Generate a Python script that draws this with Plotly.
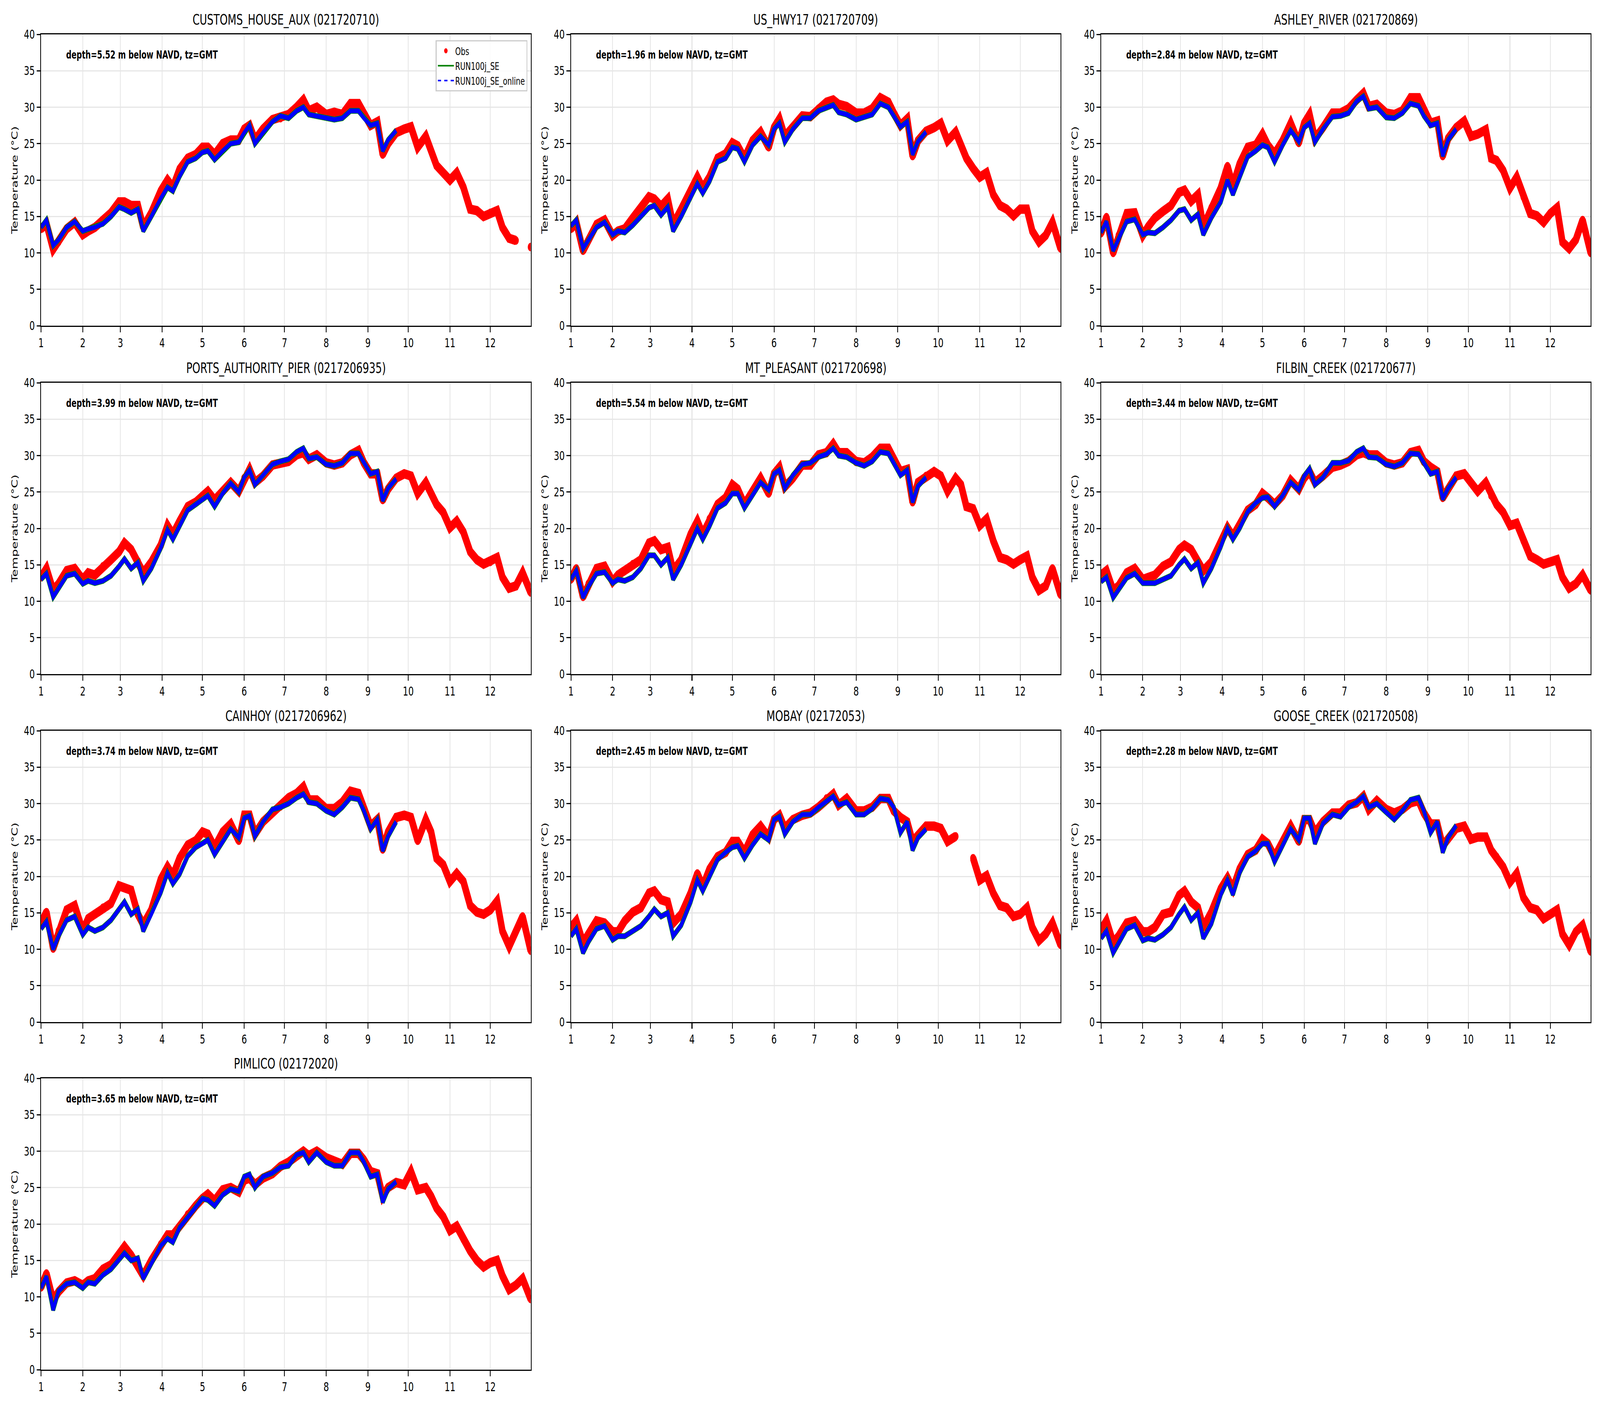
import plotly.graph_objects as go

# ---------------- data ----------------
OBS_DATES = [
    "2021-01-01", "2021-01-05", "2021-01-10", "2021-01-14", "2021-01-20", "2021-01-26",
    "2021-02-01", "2021-02-05", "2021-02-10", "2021-02-16", "2021-02-22", "2021-02-28",
    "2021-03-04", "2021-03-09", "2021-03-14", "2021-03-18", "2021-03-24", "2021-03-31",
    "2021-04-05", "2021-04-09", "2021-04-14", "2021-04-20", "2021-04-26",
    "2021-05-01", "2021-05-05", "2021-05-10", "2021-05-16", "2021-05-22", "2021-05-28",
    "2021-06-01", "2021-06-05", "2021-06-09", "2021-06-15", "2021-06-22", "2021-06-28",
    "2021-07-04", "2021-07-10", "2021-07-15", "2021-07-19", "2021-07-25",
    "2021-08-01", "2021-08-07", "2021-08-13", "2021-08-19", "2021-08-25", "2021-08-29",
    "2021-09-03", "2021-09-08", "2021-09-12", "2021-09-16", "2021-09-22", "2021-09-28",
    "2021-10-03", "2021-10-08", "2021-10-14", "2021-10-18", "2021-10-22", "2021-10-27",
    "2021-11-01", "2021-11-06", "2021-11-11", "2021-11-16", "2021-11-21", "2021-11-26",
    "2021-12-01", "2021-12-06", "2021-12-10", "2021-12-15", "2021-12-20", "2021-12-25", "2021-12-31",
]
MODEL_DATES = OBS_DATES[:51]

MONTH_TICKS = ["2021-%02d-01" % m for m in range(1, 13)]
MONTH_LABELS = [str(m) for m in range(1, 13)]
X_RANGE = ["2021-01-01", "2021-12-31"]
Y_TICKS = [0, 5, 10, 15, 20, 25, 30, 35, 40]

STATIONS = ["CUSTOMS_HOUSE_AUX", "US_HWY17", "ASHLEY_RIVER", "PORTS_AUTHORITY_PIER",
            "MT_PLEASANT", "FILBIN_CREEK", "CAINHOY", "MOBAY", "GOOSE_CREEK", "PIMLICO"]
STATION_IDS = ["021720710", "021720709", "021720869", "0217206935", "021720698",
               "021720677", "0217206962", "02172053", "021720508", "02172020"]
DEPTHS = [5.52, 1.96, 2.84, 3.99, 5.54, 3.44, 3.74, 2.45, 2.28, 3.65]

OBS_CUSTOMS = [
    13.3, 14.0, 10.5, 11.5, 13.3, 14.2,
    12.5, 13.0, 13.5, 14.5, 15.5, 17.0,
    17.0, 16.5, 16.5, 13.5, 15.5, 18.5,
    20.0, 19.0, 21.5, 23.0, 23.5,
    24.5, 24.5, 23.5, 25.0, 25.5, 25.5,
    27.0, 27.5, 25.5, 27.0, 28.3, 28.5,
    29.0, 30.0, 31.0, 29.5, 30.0,
    29.0, 29.3, 29.0, 30.5, 30.5, 29.0,
    27.5, 28.0, 23.5, 25.0, 26.5, 27.0,
    27.3, 24.5, 26.0, 24.0, 22.0, 21.0,
    20.0, 21.0, 19.0, 16.0, 15.8, 15.0,
    15.5, 15.8, 13.5, 12.0, 11.7, None, 10.8,
]
MOD_CUSTOMS = [
    13.5, 14.5, 11.0, 11.8, 13.5, 14.3,
    13.0, 13.3, 13.5, 14.0, 15.0, 16.3,
    16.0, 15.5, 16.0, 13.0, 15.0, 17.5,
    19.0, 18.5, 20.5, 22.5, 23.0,
    23.8, 24.0, 22.8, 24.0, 25.0, 25.2,
    26.5, 27.5, 25.0, 26.5, 28.0, 28.8,
    28.5, 29.5, 30.0, 29.0, 28.8,
    28.5, 28.3, 28.5, 29.5, 29.5, 28.5,
    27.5, 27.8, 24.0, 25.5, 26.8,
]

OBS_HWY17 = [
    13.3, 14.2, 10.3, 11.8, 13.9, 14.5,
    12.4, 13.0, 13.3, 14.8, 16.2, 17.7,
    17.4, 16.4, 17.4, 13.9, 16.0, 18.6,
    20.4, 18.9, 20.4, 23.0, 23.6,
    25.1, 24.7, 23.0, 25.4, 26.6, 24.5,
    27.2, 28.4, 26.0, 27.2, 28.8, 28.7,
    29.8, 30.7, 31.0, 30.4, 30.1,
    29.2, 29.2, 29.8, 31.3, 30.7, 29.2,
    27.5, 28.4, 23.3, 25.4, 26.7, 27.2,
    27.8, 25.4, 26.6, 24.8, 23.0, 21.6,
    20.4, 21.0, 18.0, 16.5, 16.0, 15.1,
    16.0, 16.0, 13.0, 11.5, 12.4, 14.2, 10.6,
]
MOD_HWY17 = [
    13.7, 14.5, 10.6, 11.8, 13.5, 14.2,
    12.5, 13.0, 12.8, 13.8, 15.0, 16.2,
    16.5, 15.2, 16.3, 13.0, 15.0, 17.5,
    19.5, 18.2, 19.8, 22.5, 23.0,
    24.5, 24.3, 22.5, 24.8, 26.0, 24.8,
    27.0, 27.8, 25.2, 27.0, 28.5, 28.5,
    29.5, 30.0, 30.3, 29.3, 29.0,
    28.3, 28.7, 29.0, 30.5, 30.0, 28.8,
    27.3, 28.0, 23.5, 25.3, 26.6,
]

OBS_ASHLEY = [
    12.7, 14.9, 10.0, 12.4, 15.4, 15.5,
    12.4, 13.6, 14.8, 15.7, 16.5, 18.3,
    18.6, 17.1, 18.0, 13.6, 16.2, 18.9,
    21.9, 19.2, 22.2, 24.5, 24.8,
    26.3, 24.8, 23.6, 25.4, 27.8, 25.1,
    27.8, 29.0, 25.7, 27.2, 29.2, 29.2,
    29.8, 31.0, 31.9, 30.1, 30.4,
    29.2, 29.0, 29.5, 31.3, 31.3, 29.5,
    27.8, 28.1, 23.3, 25.7, 27.2, 28.1,
    26.0, 26.3, 26.9, 23.0, 22.7, 21.3,
    18.9, 20.4, 17.7, 15.4, 15.1, 14.2,
    15.4, 16.2, 11.5, 10.6, 11.8, 14.5, 10.0,
]
MOD_ASHLEY = [
    12.8, 14.3, 10.3, 12.0, 14.3, 14.6,
    12.5, 12.8, 12.7, 13.5, 14.5, 15.8,
    16.0, 14.5, 15.3, 12.5, 14.8, 17.0,
    20.0, 18.0, 20.5, 23.2, 24.0,
    24.8, 24.5, 22.5, 24.8, 26.8, 25.3,
    27.2, 27.8, 25.2, 27.0, 28.7, 28.8,
    29.2, 30.8, 31.5, 29.8, 30.0,
    28.6, 28.5, 29.2, 30.5, 30.2, 28.8,
    27.5, 27.8, 23.3, 25.5, 27.0,
]

OBS_PORTS = [
    13.3, 14.5, 11.5, 12.4, 14.2, 14.5,
    13.0, 13.9, 13.6, 14.8, 15.7, 16.8,
    18.0, 17.1, 15.5, 13.9, 15.4, 17.7,
    20.4, 19.2, 21.0, 23.0, 23.6,
    24.5, 25.1, 23.9, 25.1, 26.3, 25.1,
    26.9, 28.1, 26.3, 27.2, 28.7, 29.0,
    29.2, 30.1, 30.4, 29.5, 30.1,
    29.0, 28.7, 29.0, 30.1, 30.7, 29.0,
    27.5, 27.5, 23.9, 25.4, 26.9, 27.5,
    27.2, 24.8, 26.3, 24.8, 23.3, 22.2,
    20.1, 21.0, 19.5, 16.8, 15.7, 15.1,
    15.4, 16.0, 13.3, 11.8, 12.1, 13.9, 11.2,
]
MOD_PORTS = [
    13.0, 13.8, 10.6, 11.8, 13.5, 13.8,
    12.4, 12.8, 12.5, 12.8, 13.5, 14.8,
    15.8, 14.5, 15.3, 12.8, 14.5, 17.3,
    19.8, 18.5, 20.3, 22.5, 23.3,
    24.0, 24.5, 23.0, 24.8, 26.2, 25.0,
    27.0, 28.0, 26.0, 27.2, 28.8, 29.2,
    29.5, 30.5, 31.0, 29.6, 29.8,
    28.8, 28.6, 29.0, 30.3, 30.3, 29.0,
    27.5, 27.8, 23.8, 25.5, 26.8,
]

OBS_MTP = [
    13.0, 14.5, 10.6, 12.4, 14.5, 14.8,
    12.7, 13.6, 14.2, 15.1, 15.7, 18.0,
    18.3, 17.1, 17.4, 14.2, 15.7, 19.2,
    21.0, 19.2, 21.3, 23.3, 24.2,
    26.0, 25.4, 23.3, 25.1, 26.9, 24.8,
    27.5, 28.4, 25.7, 26.9, 28.7, 28.7,
    30.1, 30.4, 31.6, 30.4, 30.4,
    29.2, 29.0, 29.8, 31.0, 31.0, 29.5,
    27.8, 28.1, 23.6, 26.3, 27.2, 27.8,
    27.2, 25.1, 26.9, 26.0, 23.0, 22.7,
    20.4, 21.3, 18.3, 16.0, 15.7, 15.1,
    15.7, 16.2, 13.3, 11.5, 12.1, 14.5, 10.9,
]
MOD_MTP = [
    13.0, 14.2, 10.5, 12.0, 13.8, 14.0,
    12.5, 13.0, 12.8, 13.3, 14.5, 16.3,
    16.3, 15.0, 16.0, 13.0, 15.0, 18.0,
    20.0, 18.5, 20.3, 22.8, 23.5,
    24.8, 24.8, 22.8, 24.5, 26.3, 25.3,
    27.5, 28.0, 25.5, 27.3, 28.8, 29.0,
    29.8, 30.2, 31.0, 30.0, 29.8,
    29.0, 28.6, 29.2, 30.5, 30.3, 29.0,
    27.3, 28.0, 23.6, 25.8, 27.0,
]

OBS_FILBIN = [
    13.6, 14.2, 11.5, 12.1, 13.9, 14.5,
    13.0, 13.3, 13.6, 14.8, 15.4, 17.1,
    17.7, 17.1, 15.4, 14.2, 15.4, 18.0,
    20.1, 18.9, 20.4, 22.5, 23.3,
    24.8, 24.2, 23.3, 24.5, 26.6, 25.4,
    26.9, 27.8, 26.3, 27.2, 28.4, 28.7,
    29.2, 30.1, 30.4, 30.1, 30.1,
    29.0, 28.7, 29.0, 30.4, 30.7, 29.2,
    28.4, 27.8, 24.2, 25.4, 27.2, 27.5,
    26.3, 25.1, 26.3, 24.5, 23.3, 22.2,
    20.4, 20.7, 18.3, 16.2, 15.7, 15.1,
    15.4, 15.7, 13.3, 11.8, 12.4, 13.6, 11.5,
]
MOD_FILBIN = [
    12.7, 13.3, 10.5, 11.5, 13.2, 13.8,
    12.5, 12.5, 12.5, 13.0, 13.5, 15.0,
    15.8, 14.5, 15.3, 12.5, 14.5, 17.5,
    20.0, 18.5, 20.0, 22.3, 23.5,
    24.2, 24.3, 23.0, 24.5, 26.3, 25.3,
    27.2, 28.2, 26.0, 27.0, 29.0, 29.0,
    29.3, 30.5, 31.0, 29.8, 29.7,
    28.8, 28.5, 29.0, 30.3, 30.2, 29.0,
    27.5, 27.8, 24.0, 25.5, 27.0,
]

OBS_CAINHOY = [
    13.6, 15.1, 10.1, 12.5, 15.4, 16.0,
    12.5, 14.2, 14.8, 15.7, 16.3, 18.7,
    18.4, 18.1, 14.8, 13.4, 15.4, 19.6,
    21.3, 20.1, 22.5, 24.3, 24.9,
    26.1, 25.8, 24.0, 26.1, 27.2, 24.9,
    28.4, 28.4, 25.8, 27.5, 28.7, 29.6,
    30.8, 31.4, 32.3, 30.5, 30.5,
    29.3, 29.3, 30.2, 31.7, 31.4, 29.3,
    26.9, 27.8, 23.7, 26.1, 28.1, 28.4,
    28.1, 24.9, 27.8, 26.1, 22.5, 21.6,
    19.3, 20.4, 19.3, 16.0, 15.1, 14.8,
    15.4, 16.6, 12.5, 10.4, 12.5, 14.5, 9.8,
]
MOD_CAINHOY = [
    12.8, 13.8, 10.0, 11.8, 14.0, 14.5,
    12.0, 13.0, 12.5, 13.0, 14.0, 15.5,
    16.5, 14.8, 15.5, 12.5, 14.8, 17.8,
    20.5, 19.0, 20.3, 22.8, 24.0,
    24.5, 25.0, 23.0, 24.8, 26.5, 25.3,
    28.0, 28.3, 25.5, 27.5, 29.2, 29.5,
    30.0, 30.8, 31.3, 30.2, 30.0,
    29.0, 28.5, 29.5, 30.8, 30.6, 29.0,
    26.5, 27.8, 23.5, 25.5, 27.5,
]

OBS_MOBAY = [
    13.0, 13.9, 10.9, 12.1, 13.9, 13.6,
    12.4, 12.4, 13.9, 15.1, 15.7, 17.7,
    18.0, 16.8, 16.5, 13.6, 14.8, 17.7,
    20.4, 18.6, 21.0, 22.7, 23.3,
    24.8, 24.8, 23.3, 25.7, 26.9, 25.4,
    27.8, 28.4, 26.6, 27.8, 28.4, 28.7,
    29.5, 30.7, 31.3, 29.8, 30.7,
    29.0, 29.0, 29.5, 30.7, 30.7, 29.0,
    28.1, 27.5, 24.8, 25.7, 26.9, 26.9,
    26.6, 24.8, 25.5, None, None, 22.5,
    19.5, 20.1, 17.7, 16.0, 15.7, 14.5,
    14.8, 15.7, 13.0, 11.2, 12.1, 13.6, 10.6,
]
MOD_MOBAY = [
    11.8, 12.8, 9.5, 11.0, 12.8, 13.2,
    11.3, 11.8, 11.8, 12.5, 13.2, 14.5,
    15.5, 14.5, 15.0, 11.8, 13.3, 16.5,
    19.5, 18.0, 20.0, 22.3, 23.3,
    24.0, 24.2, 22.5, 24.3, 25.8, 25.0,
    27.8, 28.2, 25.8, 27.5, 28.5, 28.5,
    29.5, 30.3, 31.0, 29.8, 30.2,
    28.5, 28.5, 29.3, 30.7, 30.5, 29.5,
    26.0, 27.5, 23.6, 25.3, 26.5,
]

OBS_GOOSE = [
    12.7, 13.9, 10.9, 11.8, 13.6, 13.9,
    12.4, 12.4, 13.0, 14.8, 15.1, 17.4,
    18.0, 16.5, 15.7, 13.0, 15.1, 18.3,
    19.8, 18.3, 21.0, 23.0, 23.6,
    25.1, 24.5, 22.7, 24.8, 26.9, 24.8,
    27.8, 27.8, 26.0, 27.5, 28.7, 28.7,
    29.8, 30.1, 31.0, 29.2, 30.4,
    29.2, 28.7, 29.2, 30.1, 30.4, 28.7,
    27.2, 27.2, 24.2, 25.1, 26.6, 26.9,
    25.1, 25.4, 25.4, 23.6, 22.7, 21.3,
    19.2, 20.4, 17.1, 15.7, 15.4, 14.2,
    14.8, 15.4, 12.1, 10.6, 12.4, 13.3, 9.7,
]
MOD_GOOSE = [
    11.5, 12.5, 9.5, 10.8, 12.8, 13.3,
    11.2, 11.5, 11.3, 12.0, 13.0, 14.8,
    15.8, 14.0, 15.0, 11.5, 13.5, 17.5,
    19.5, 17.5, 20.5, 22.7, 23.5,
    24.5, 24.5, 22.0, 24.3, 26.5, 25.0,
    28.0, 28.0, 24.5, 27.3, 28.5, 28.2,
    29.5, 30.2, 31.0, 29.5, 30.0,
    28.8, 27.8, 29.0, 30.5, 30.8, 29.0,
    26.0, 27.5, 23.3, 25.3, 27.0,
]

OBS_PIMLICO = [
    11.3, 13.2, 9.5, 10.7, 11.9, 12.2,
    11.6, 12.2, 12.5, 13.8, 14.4, 15.7,
    16.9, 15.7, 14.1, 12.9, 15.0, 17.2,
    18.5, 18.5, 19.7, 21.3, 22.5,
    23.5, 24.1, 23.2, 24.7, 25.0, 24.4,
    26.0, 26.3, 25.4, 26.3, 26.9, 27.9,
    28.5, 29.4, 30.0, 29.4, 30.0,
    29.1, 28.5, 28.2, 29.7, 29.7, 28.8,
    27.2, 26.9, 23.8, 25.0, 25.7, 25.4,
    27.2, 24.7, 25.0, 23.8, 22.2, 21.0,
    19.1, 19.7, 17.9, 16.3, 15.0, 14.1,
    14.7, 15.0, 12.9, 11.0, 11.6, 12.5, 9.7,
]
MOD_PIMLICO = [
    11.2, 12.8, 8.2, 10.8, 11.8, 12.0,
    11.2, 12.0, 11.8, 13.0, 13.8, 15.0,
    16.0, 15.0, 15.3, 12.5, 14.5, 17.0,
    18.0, 17.5, 19.5, 21.0, 22.3,
    23.5, 23.3, 22.5, 24.0, 24.8, 24.5,
    26.5, 26.8, 25.0, 26.5, 27.0, 27.8,
    28.0, 29.5, 29.8, 28.5, 29.8,
    28.5, 28.0, 28.0, 29.8, 29.8, 28.5,
    26.5, 26.8, 23.0, 24.8, 25.8,
]

OBS_SERIES = [OBS_CUSTOMS, OBS_HWY17, OBS_ASHLEY, OBS_PORTS, OBS_MTP,
              OBS_FILBIN, OBS_CAINHOY, OBS_MOBAY, OBS_GOOSE, OBS_PIMLICO]
MOD_SERIES = [MOD_CUSTOMS, MOD_HWY17, MOD_ASHLEY, MOD_PORTS, MOD_MTP,
              MOD_FILBIN, MOD_CAINHOY, MOD_MOBAY, MOD_GOOSE, MOD_PIMLICO]

# ---------------- layout geometry (pixel grid 6000 x 3600) ----------------
W, H = 6000, 3600
COL_LEFT = [154, 2141, 4129]
ROW_TOP = [88, 980, 1871, 2761]
AX_W, AX_H = 1836, 746
FONT = "DejaVu Sans"

fig = go.Figure()
layout = dict(
    width=W, height=H, autosize=False,
    margin=dict(l=0, r=0, t=0, b=0, pad=0),
    paper_bgcolor="white", plot_bgcolor="white",
    font=dict(family=FONT, size=32, color="black"),
    showlegend=True,
    legend=dict(
        x=(COL_LEFT[0] + AX_W - 13) / W, y=1 - 103 / H,
        xanchor="right", yanchor="top",
        bgcolor="rgba(255,255,255,0.85)", bordercolor="#cccccc", borderwidth=3,
        font=dict(family=FONT, size=27), itemwidth=60, tracegroupgap=0,
    ),
)
annotations = []

for i in range(len(STATIONS)):
    n = i + 1
    r, c = divmod(i, 3)
    left = COL_LEFT[c]
    top = ROW_TOP[r]
    xd = [left / W, (left + AX_W) / W]
    yd = [1 - (top + AX_H) / H, 1 - top / H]
    xs = "x" if n == 1 else "x%d" % n
    ys = "y" if n == 1 else "y%d" % n
    xk = "xaxis" if n == 1 else "xaxis%d" % n
    yk = "yaxis" if n == 1 else "yaxis%d" % n

    fig.add_trace(go.Scatter(
        x=OBS_DATES, y=OBS_SERIES[i], xaxis=xs, yaxis=ys,
        mode="lines+markers", line=dict(color="red", width=24),
        marker=dict(color="red", size=22), connectgaps=False,
        showlegend=False, hoverinfo="skip"))
    fig.add_trace(go.Scatter(
        x=MODEL_DATES, y=MOD_SERIES[i], xaxis=xs, yaxis=ys,
        mode="lines", line=dict(color="green", width=15),
        showlegend=False, hoverinfo="skip"))
    fig.add_trace(go.Scatter(
        x=MODEL_DATES, y=MOD_SERIES[i], xaxis=xs, yaxis=ys,
        mode="lines", line=dict(color="blue", width=12),
        showlegend=False, hoverinfo="skip"))

    layout[xk] = dict(
        domain=xd, anchor=ys, type="date", range=X_RANGE,
        tickmode="array", tickvals=MONTH_TICKS, ticktext=MONTH_LABELS,
        ticks="outside", ticklen=14, tickwidth=3, tickcolor="black",
        showline=True, linecolor="black", linewidth=3, mirror=True,
        showgrid=True, gridcolor="#e6e6e6", gridwidth=3, zeroline=False,
        tickfont=dict(family=FONT, size=32), automargin=False,
    )
    layout[yk] = dict(
        domain=yd, anchor=xs, range=[0, 40],
        tickmode="array", tickvals=Y_TICKS,
        ticks="outside", ticklen=14, tickwidth=3, tickcolor="black",
        showline=True, linecolor="black", linewidth=3, mirror=True,
        showgrid=True, gridcolor="#e6e6e6", gridwidth=3, zeroline=False,
        tickfont=dict(family=FONT, size=32), automargin=False,
        title=dict(text="Temperature (°C)", font=dict(family=FONT, size=32), standoff=14),
    )
    annotations.append(dict(
        text="%s (%s)" % (STATIONS[i], STATION_IDS[i]),
        xref="paper", yref="paper", x=(xd[0] + xd[1]) / 2, y=1 - (top - 14) / H,
        xanchor="center", yanchor="bottom", showarrow=False,
        font=dict(family=FONT, size=38, color="black")))
    annotations.append(dict(
        text="<b>depth=%.2f m below NAVD, tz=GMT</b>" % DEPTHS[i],
        xref="%s domain" % xs, yref="%s domain" % ys, x=0.05, y=0.955,
        xanchor="left", yanchor="top", showarrow=False,
        font=dict(family=FONT, size=28, color="black")))

# legend-only entries
fig.add_trace(go.Scatter(x=[None], y=[None], mode="markers", name="Obs",
                         marker=dict(color="red", size=13)))
fig.add_trace(go.Scatter(x=[None], y=[None], mode="lines", name="RUN100j_SE",
                         line=dict(color="green", width=4)))
fig.add_trace(go.Scatter(x=[None], y=[None], mode="lines", name="RUN100j_SE_online",
                         line=dict(color="blue", width=4, dash="dash")))

layout["annotations"] = annotations
fig.update_layout(**layout)

# fit the 6000x3600 figure into whatever viewport the browser actually provides
FIT_JS = (
    "var gd=document.getElementById('{plot_id}');"
    "document.documentElement.style.overflow='hidden';"
    "document.body.style.margin='0';document.body.style.overflow='hidden';"
    "var sx=window.innerWidth/%d, sy=window.innerHeight/%d;"
    "gd.style.transformOrigin='0 0';"
    "gd.style.transform='scale('+sx+','+sy+')';" % (W, H)
)
fig.write_html("out.html", config={"displayModeBar": False}, post_script=FIT_JS)
